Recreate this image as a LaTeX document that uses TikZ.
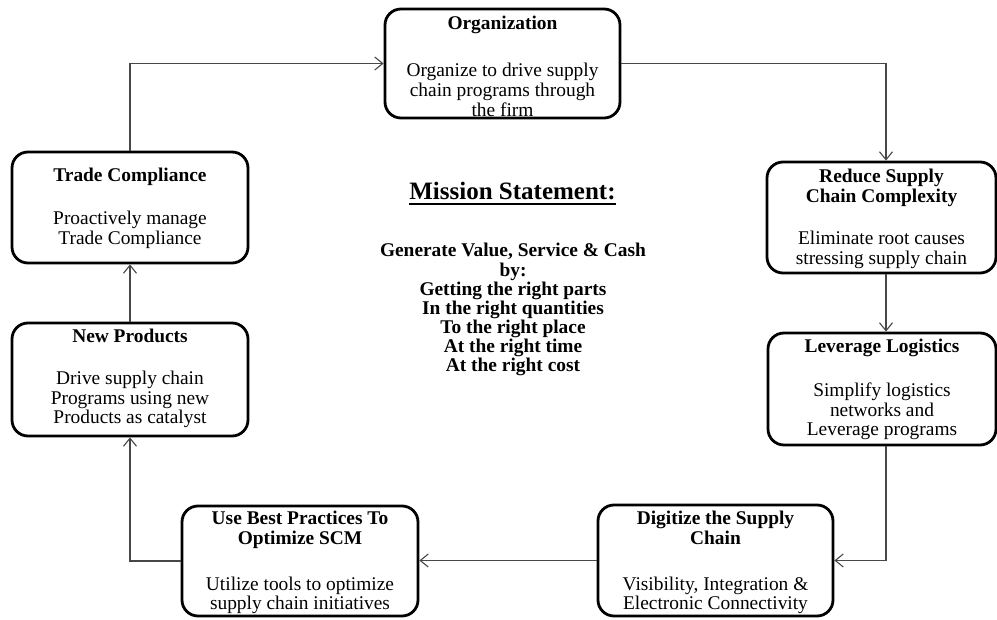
\documentclass[tikz,border=0pt]{standalone}
\usepackage{fontspec}
\setmainfont{Liberation Serif}
\usetikzlibrary{arrows.meta}
\newcommand{\mlines}[1]{\begin{tabular}[t]{@{}c@{}}#1\end{tabular}}
\begin{document}
\begin{tikzpicture}[x=1pt,y=-1pt,
  box/.style={draw=black, line width=2.8pt, rounded corners=16pt, inner sep=0pt},
  ttl/.style={anchor=base, inner sep=0pt, font=\bfseries\fontsize{19.4}{20}\selectfont},
  bdy/.style={anchor=base, inner sep=0pt, font=\fontsize{19.4}{19.5}\selectfont},
  conn/.style={draw=black!72, line width=1.1pt, -{Straight Barb[length=8pt,width=13pt,line width=1.1pt]}}
]
\useasboundingbox (0,0) rectangle (997,620);

% boxes
\node[box, minimum width=235pt, minimum height=109pt] (org) at (502.5,63.5) {};
\node[box, minimum width=229pt, minimum height=111pt] (reduce) at (881.5,217.5) {};
\node[box, minimum width=228pt, minimum height=112pt] (lev) at (882,389) {};
\node[box, minimum width=235pt, minimum height=111pt] (dig) at (715.5,560.5) {};
\node[box, minimum width=236pt, minimum height=110pt] (use) at (300,561) {};
\node[box, minimum width=236pt, minimum height=113pt] (newp) at (130,379.5) {};
\node[box, minimum width=236pt, minimum height=111pt] (trade) at (130,207.5) {};

% texts
\node[ttl] (orgT) at (502.5,30) {Organization};
\node[bdy] (orgB) at (502.5,77) {\mlines{Organize to drive supply\\chain programs through\\the firm}};

\node[ttl] (redT) at (881.5,183) {\mlines{Reduce Supply\\Chain Complexity}};
\node[bdy] (redB) at (881.5,245) {\mlines{Eliminate root causes\\stressing supply chain}};

\node[ttl] (levT) at (882,353) {Leverage Logistics};
\node[bdy] (levB) at (882,397) {\mlines{Simplify logistics\\networks and\\Leverage programs}};

\node[ttl] (digT) at (715.5,525) {\mlines{Digitize the Supply\\Chain}};
\node[bdy] (digB) at (715.5,590) {\mlines{Visibility, Integration \&\\Electronic Connectivity}};

\node[ttl] (useT) at (300,525) {\mlines{Use Best Practices To\\Optimize SCM}};
\node[bdy] (useB) at (300,590) {\mlines{Utilize tools to optimize\\supply chain initiatives}};

\node[ttl] (newT) at (130,343) {New Products};
\node[bdy] (newB) at (130,385) {\mlines{Drive supply chain\\Programs using new\\Products as catalyst}};

\node[ttl] (trT) at (130,182) {Trade Compliance};
\node[bdy] (trB) at (130,225) {\mlines{Proactively manage\\Trade Compliance}};

% mission statement
\node[anchor=base, inner sep=0pt, font=\bfseries\fontsize{25}{26}\selectfont] (ms) at (512.5,200) {Mission Statement:};
\draw[line width=1.8pt] ([yshift=-4pt]ms.base west) -- ([yshift=-4pt]ms.base east);
\node[anchor=base, inner sep=0pt, font=\bfseries\fontsize{19.4}{18.8}\selectfont] (msB) at (513,257)
  {\mlines{Generate Value, Service \& Cash\\by:\\Getting the right parts\\In the right quantities\\To the right place\\At the right time\\At the right cost}};

% connectors
\draw[conn] (trade.north) |- (org.west);
\draw[conn] (org.east) -| ([xshift=4.5pt]reduce.north);
\draw[conn] ([xshift=4.5pt]reduce.south) -- ([xshift=4pt]lev.north);
\draw[conn] ([xshift=4pt]lev.south) |- (dig.east);
\draw[conn] (dig.west) -- (dig.west -| use.east);
\draw[conn] (use.west) -| (newp.south);
\draw[conn] (newp.north) -- (trade.south);
\end{tikzpicture}
\end{document}
